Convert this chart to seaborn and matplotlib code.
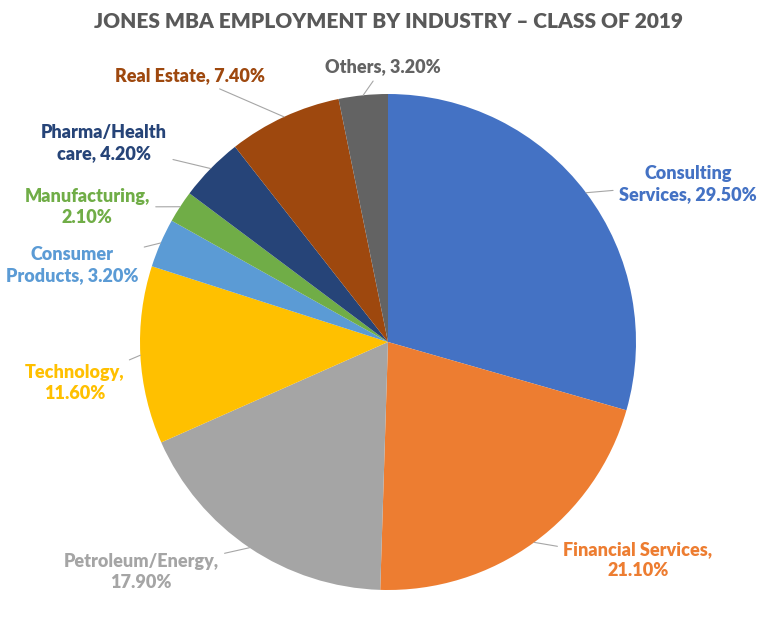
import matplotlib
matplotlib.use("Agg")
import matplotlib.pyplot as plt
import seaborn as sns
import numpy as np

# ---- data ----
categories = ["Consulting Services", "Financial Services", "Petroleum/Energy", "Technology",
              "Consumer Products", "Manufacturing", "Pharma/Health care", "Real Estate", "Others"]
values = [29.5, 21.1, 17.9, 11.6, 3.2, 2.1, 4.2, 7.4, 3.2]
label_texts = ["Consulting\nServices, 29.50%", "Financial Services,\n21.10%", "Petroleum/Energy,\n17.90%",
               "Technology,\n11.60%", "Consumer\nProducts, 3.20%", "Manufacturing,\n2.10%",
               "Pharma/Health\ncare, 4.20%", "Real Estate, 7.40%", "Others, 3.20%"]
slice_colors = ["#4472C4", "#ED7D31", "#A5A5A5", "#FFC000", "#5B9BD5",
                "#70AD47", "#264478", "#9E480E", "#636363"]
title = "JONES MBA EMPLOYMENT BY INDUSTRY \u2013 CLASS OF 2019"

# ---- layout (pixel positions, origin top-left) ----
W, H = 768, 617
pie_center = (388, 342)
pie_radius = 248
label_pos = [(688, 184), (638, 560), (141, 572), (75, 383), (72, 265),
             (87, 207), (104, 143), (190, 76), (383, 67)]

sns.set_theme(style="white")
plt.rcParams["font.family"] = ["Lato", "DejaVu Sans"]

fig = plt.figure(figsize=(W / 100, H / 100), dpi=100)
ax = fig.add_axes([0, 0, 1, 1])
palette = sns.color_palette(slice_colors)

wedges, _ = ax.pie(values, colors=palette, startangle=90, counterclock=False,
                   center=(pie_center[0], H - pie_center[1]), radius=pie_radius,
                   wedgeprops=dict(linewidth=0))

for w, txt, (lx, ly), col in zip(wedges, label_texts, label_pos, slice_colors):
    mid = np.deg2rad((w.theta1 + w.theta2) / 2)
    ex = pie_center[0] + pie_radius * np.cos(mid)
    ey = (H - pie_center[1]) + pie_radius * np.sin(mid)
    ax.annotate(txt, xy=(ex, ey), xytext=(lx, H - ly), ha="center", va="center",
                fontsize=13, fontweight="heavy", color=col, linespacing=1.25,
                arrowprops=dict(arrowstyle="-", color="#A6A6A6", lw=0.8,
                                shrinkA=2, shrinkB=0))

ax.text(W / 2 + 4, H - 22, title, ha="center", va="center", fontsize=15,
        fontweight="heavy", color="#595959")

ax.set_xlim(0, W)
ax.set_ylim(0, H)
ax.set_aspect("equal")
ax.axis("off")
fig.savefig("out.png", dpi=100)
